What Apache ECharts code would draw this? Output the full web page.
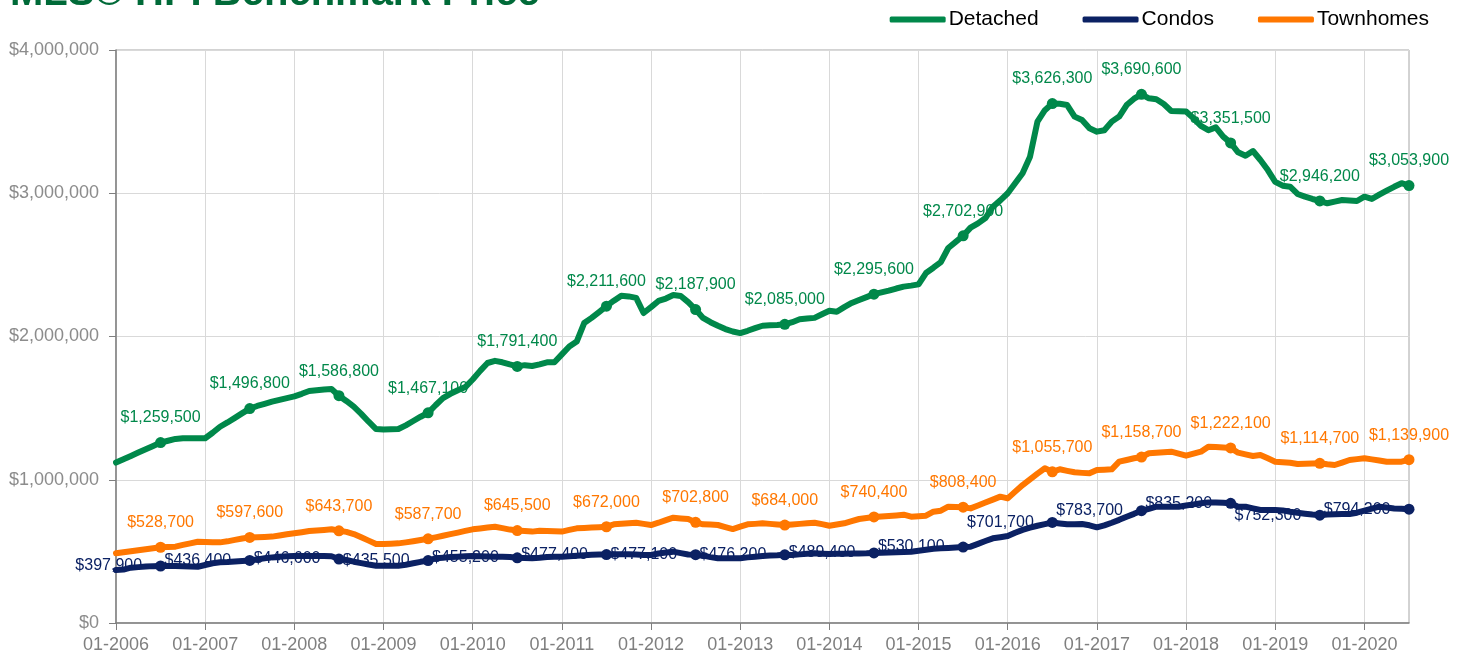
<!DOCTYPE html>
<html>
<head>
<meta charset="utf-8">
<script src="https://cdn.jsdelivr.net/npm/echarts@6/dist/echarts.min.js"></script>
<style>
  html, body { margin: 0; padding: 0; background: #fff; }
  #main { width: 1464px; height: 658px; }
</style>
</head>
<body>
<div id="main"></div>
<script>
// monthly benchmark prices, thousands of dollars, 01-2006 .. 07-2020
var detached = [
  1120, 1143, 1166, 1190, 1213, 1236, 1259.5, 1272, 1285, 1290, 1290, 1290,
  1290, 1328, 1370, 1400, 1432, 1465, 1496.8, 1515, 1530, 1545, 1558, 1570,
  1582, 1600, 1620, 1625, 1630, 1633, 1586.8, 1550, 1510, 1460, 1405, 1354,
  1350, 1352, 1354, 1380, 1410, 1440, 1467.1, 1520, 1570, 1600, 1625, 1647,
  1700, 1760, 1815, 1830, 1820, 1805, 1791.4, 1800, 1794, 1805, 1820, 1820,
  1875, 1930, 1965, 2094, 2130, 2170, 2211.6, 2250, 2285, 2280, 2270, 2164,
  2205, 2248, 2265, 2290, 2283, 2240, 2187.9, 2130, 2100, 2075, 2052, 2035,
  2024, 2040, 2058, 2075, 2078, 2080, 2085, 2100, 2120, 2125, 2130, 2155,
  2180, 2173, 2205, 2234, 2255, 2275, 2295.6, 2308, 2320, 2335, 2348, 2355,
  2364, 2443, 2480, 2520, 2618, 2660, 2702.9, 2760, 2790, 2827, 2906, 2950,
  3000, 3070, 3140, 3255, 3500, 3580, 3626.3, 3625, 3616, 3535, 3511, 3453,
  3430, 3440, 3500, 3535, 3616, 3660, 3690.6, 3663, 3656, 3623, 3574, 3572,
  3570, 3523, 3470, 3440, 3460, 3395, 3351.5, 3286, 3262, 3295, 3232, 3162,
  3080, 3053, 3046, 2995, 2976, 2960, 2946.2, 2930, 2942, 2953, 2950, 2946,
  2976, 2960, 2990, 3018, 3045, 3070, 3053.9
];
var condos = [
  370, 373, 386, 390, 394, 397, 397.9, 398, 398, 396, 394, 393,
  405, 417, 424, 426, 430, 433, 436.4, 444, 452, 458, 463, 466,
  468, 468, 468, 468, 468, 466, 446.6, 440, 428, 418, 408, 400,
  400, 400, 400, 407, 417, 427, 435.5, 452, 456, 460, 463, 466,
  468, 466, 464, 463, 462, 461, 455.2, 454, 452, 455, 460, 463,
  463, 466, 470, 473, 476, 478, 477.4, 480, 480, 480, 478, 475,
  475, 485, 492, 498, 488, 478, 477.1, 470, 460, 452, 452, 452,
  452, 458, 463, 468, 471, 473, 476.2, 475, 479, 483, 487, 484,
  482, 484, 484, 485, 486, 487, 489.4, 490, 492, 494, 496, 498,
  505, 512, 519, 521, 524, 527, 530.1, 533, 552, 572, 591, 599,
  607, 630, 650, 665, 679, 690, 701.7, 695, 689, 690, 691, 682,
  668, 682, 700, 720, 742, 762, 783.7, 797, 812, 812, 812, 812,
  820, 828, 836, 842, 842, 840, 835.2, 812, 812, 800, 789, 789,
  789, 786, 777, 770, 763, 757, 752.3, 757, 759, 761, 761, 770,
  784, 798, 812, 806, 800, 797, 794.2
];
var townhomes = [
  486.5, 494, 501, 508, 515, 522, 528.7, 531, 533, 545, 556, 567.5,
  566, 564, 563, 570, 580, 590, 597.6, 599, 601, 603, 611, 619,
  626, 634, 642, 646, 650, 654, 643.7, 636, 621, 598, 575, 551,
  552, 554, 556, 563, 571, 579, 587.7, 598, 609, 620, 631, 643,
  654, 660, 666, 672, 662, 652, 645.5, 642, 638, 644, 642, 640,
  638, 650, 661, 664, 667, 669, 672, 689, 693, 696, 700, 692,
  684, 700, 718, 735, 730, 726, 702.8, 689, 687, 684, 670, 656,
  672, 689, 692, 696, 692, 688, 684, 688, 692, 696, 700, 690,
  679, 688, 696, 711, 726, 733, 740.4, 744, 747, 751, 756, 742,
  745, 749, 777, 784, 812, 810, 808.4, 800, 820, 841, 861, 882,
  870, 917, 963, 1003, 1043, 1080, 1055.7, 1073, 1062, 1052, 1048, 1045,
  1068, 1070, 1073, 1126, 1138, 1150, 1158.7, 1185, 1189, 1192, 1196, 1182,
  1168, 1182, 1196, 1231, 1228, 1225, 1222.1, 1189, 1177, 1166, 1173, 1150,
  1126, 1122, 1119, 1110, 1112, 1114, 1114.7, 1108, 1103, 1120, 1138, 1144,
  1150, 1142, 1134, 1126, 1126, 1126, 1139.9
];
var seriesNames = ['Detached', 'Condos', 'Townhomes'];
var seriesColors = ['#00884a', '#0b2163', '#ff7700'];
var yTicks = [0, 1000000, 2000000, 3000000, 4000000];

// category labels MM-YYYY
var months = [];
for (var y = 2006; y <= 2020; y++) {
    for (var m = 1; m <= 12; m++) {
        if (y === 2020 && m > 7) break;
        months.push((m < 10 ? '0' : '') + m + '-' + y);
    }
}

var FONT = "'Liberation Sans', Arial, Helvetica, sans-serif";

function money(v) {
    return '$' + String(Math.round(v)).replace(/\B(?=(\d{3})+(?!\d))/g, ',');
}
function marked(i) {
    return i % 12 === 6;
}

function makeSeries(name, color, vals, pos) {
    return {
        name: name,
        type: 'line',
        data: vals.map(function (v) { return Math.round(v * 1000); }),
        symbol: 'circle',
        showAllSymbol: true,
        symbolSize: function (v, p) { return marked(p.dataIndex) ? 11 : 0; },
        lineStyle: { width: 6, color: color, cap: 'round', join: 'round' },
        itemStyle: { color: color },
        label: {
            show: true,
            position: pos,
            distance: pos === 'top' ? 11 : 13,
            color: color,
            fontSize: 16,
            fontFamily: FONT,
            formatter: function (p) { return marked(p.dataIndex) ? money(p.value) : ''; }
        },
        emphasis: { disabled: true },
        animation: false
    };
}

var myChart = echarts.init(document.getElementById('main'));
myChart.setOption({
    backgroundColor: '#ffffff',
    animation: false,
    title: {
        text: 'MLS® HPI Benchmark Price',
        left: 5,
        top: -31,
        textStyle: { color: '#006a38', fontSize: 40, fontWeight: 'bold', fontFamily: FONT }
    },
    legend: {
        data: seriesNames,
        right: 30,
        top: 4,
        icon: 'roundRect',
        itemWidth: 56,
        itemHeight: 6,
        itemGap: 44,
        textStyle: { color: '#000', fontSize: 21, fontFamily: FONT, padding: [0, 0, 0, -2] }
    },
    grid: {
        left: 116, right: 55, top: 50, bottom: 35,
        show: true, borderColor: '#a6a6a6', borderWidth: 1
    },
    xAxis: {
        type: 'category',
        data: months,
        boundaryGap: false,
        axisLine: { lineStyle: { color: '#7f7f7f', width: 1.5 } },
        axisTick: { interval: function (i) { return i % 12 === 0; }, length: 7, lineStyle: { color: '#7f7f7f' } },
        axisLabel: {
            interval: function (i) { return i % 12 === 0; },
            color: '#7f7f7f', fontSize: 18, fontFamily: FONT, margin: 13
        },
        splitLine: { show: true, interval: function (i) { return i % 12 === 0; }, lineStyle: { color: '#d9d9d9' } }
    },
    yAxis: {
        type: 'value',
        min: yTicks[0],
        max: yTicks[yTicks.length - 1],
        interval: 1000000,
        axisLine: { show: true, lineStyle: { color: '#7f7f7f', width: 1.5 } },
        axisTick: { show: true, length: 7, lineStyle: { color: '#7f7f7f' } },
        axisLabel: { color: '#8c8c8c', fontSize: 18, fontFamily: FONT, margin: 17, formatter: money },
        splitLine: { lineStyle: { color: '#d9d9d9' } }
    },
    series: [
        makeSeries(seriesNames[0], seriesColors[0], detached, 'top'),
        makeSeries(seriesNames[1], seriesColors[1], condos, 'left'),
        makeSeries(seriesNames[2], seriesColors[2], townhomes, 'top')
    ]
});
</script>
</body>
</html>
